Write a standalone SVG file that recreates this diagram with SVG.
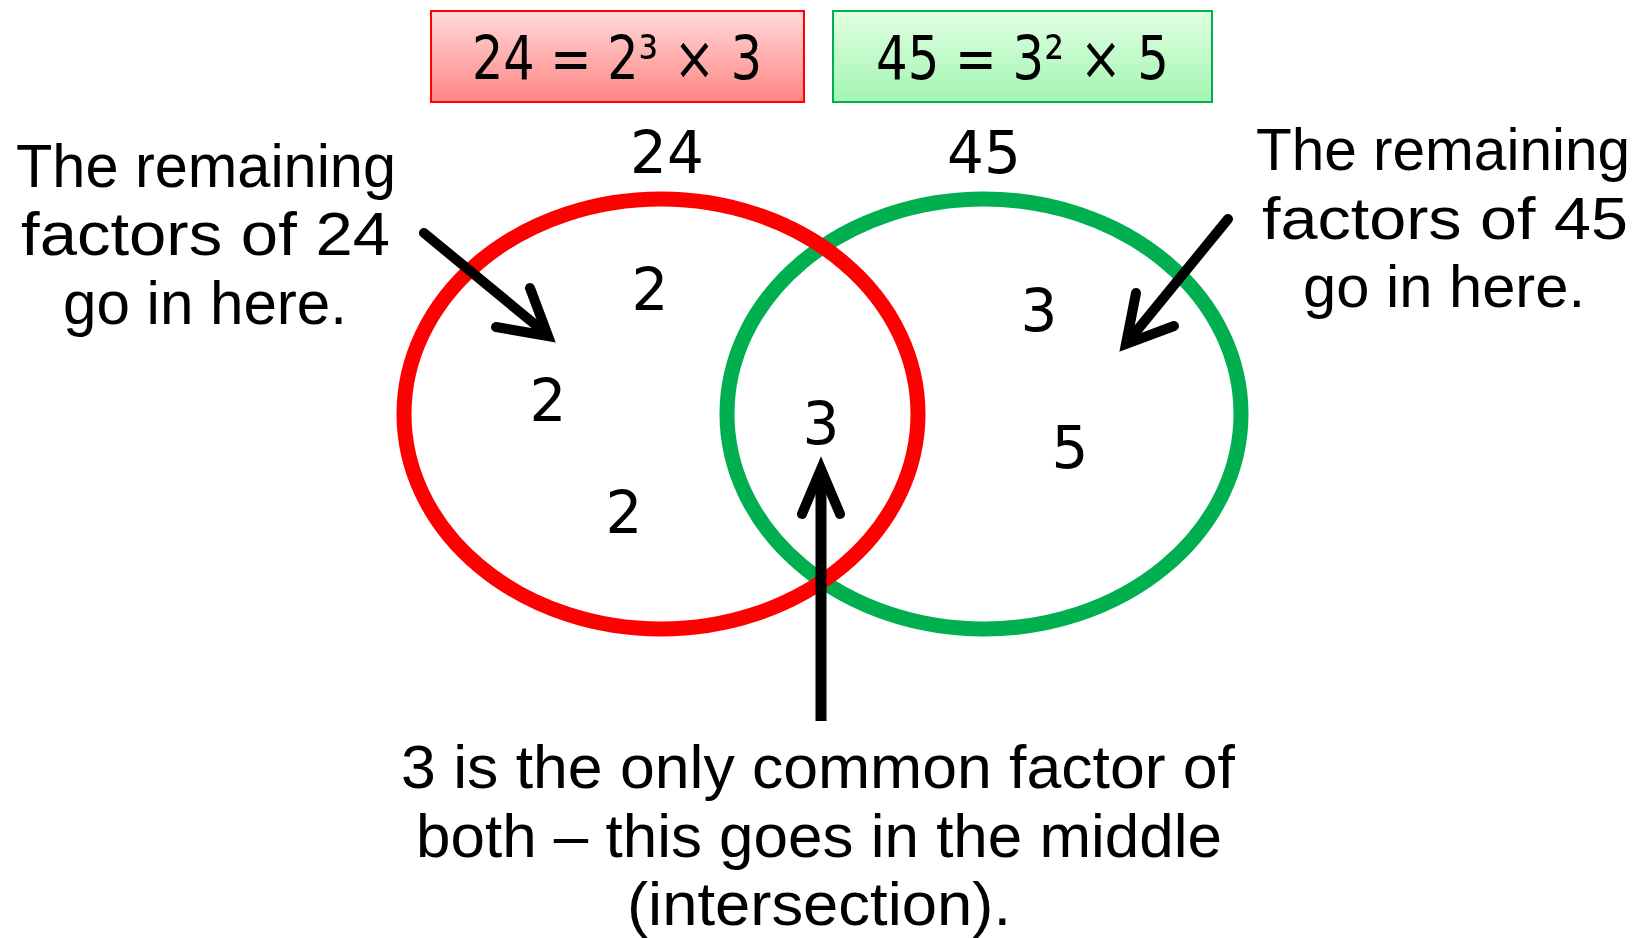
<svg xmlns="http://www.w3.org/2000/svg" width="1648" height="938" viewBox="0 0 1648 938">
<defs>
<linearGradient id="gRed" x1="0" y1="0" x2="0" y2="1">
<stop offset="0" stop-color="#ffd9d9"/>
<stop offset="1" stop-color="#ff8585"/>
</linearGradient>
<linearGradient id="gGreen" x1="0" y1="0" x2="0" y2="1">
<stop offset="0" stop-color="#e2ffe2"/>
<stop offset="1" stop-color="#a2f5b2"/>
</linearGradient>
<style>
text{font-family:"DejaVu Sans","Noto Sans",sans-serif;fill:#000}
.lbl{font-family:"Liberation Sans",Arial,sans-serif;font-size:62px}
.rt{font-family:"Liberation Sans",Arial,sans-serif;font-size:60px;text-anchor:end}
.num{font-size:58px;text-anchor:middle}
.box{font-size:60px}
.arrow{fill:none;stroke:#000;stroke-width:10;stroke-linecap:round;stroke-linejoin:miter}
.shaft{fill:none;stroke:#000;stroke-width:11;stroke-linecap:butt}
</style>
</defs>
<rect width="1648" height="938" fill="#fff"/>
<g id="box24">
<rect x="431" y="11" width="373" height="91" fill="url(#gRed)" stroke="#ff0000" stroke-width="2"/>
<text class="box" x="472" y="79" textLength="290" lengthAdjust="spacingAndGlyphs">24 = 2³ × 3</text>
</g>
<g id="box45">
<rect x="833" y="11" width="379" height="91" fill="url(#gGreen)" stroke="#00b050" stroke-width="2"/>
<text class="box" x="876" y="79" textLength="293" lengthAdjust="spacingAndGlyphs">45 = 3² × 5</text>
</g>
<g id="set45">
<ellipse cx="984" cy="414" rx="257" ry="215" fill="none" stroke="#00b050" stroke-width="15"/>
<text class="num" x="984" y="173">45</text>
<text class="num" x="1039" y="331">3</text>
<text class="num" x="1070" y="468">5</text>
</g>
<g id="set24">
<ellipse cx="661" cy="414" rx="257" ry="215" fill="none" stroke="#ff0000" stroke-width="15"/>
<text class="num" x="667" y="173">24</text>
<text class="num" x="650" y="310">2</text>
<text class="num" x="548" y="421">2</text>
<text class="num" x="624" y="533">2</text>
</g>
<g id="intersection">
<text class="num" x="821" y="444">3</text>
</g>
<g id="note-left">
<text class="lbl" x="16" y="187" textLength="380" lengthAdjust="spacingAndGlyphs">The remaining</text>
<text class="lbl" x="21" y="255" textLength="369" lengthAdjust="spacingAndGlyphs">factors of 24</text>
<text class="lbl" x="63" y="324" textLength="284" lengthAdjust="spacingAndGlyphs">go in here.</text>
</g>
<g id="note-right">
<text class="rt" x="1630" y="170" textLength="374" lengthAdjust="spacingAndGlyphs">The remaining</text>
<text class="rt" x="1628" y="239" textLength="366" lengthAdjust="spacingAndGlyphs">factors of 45</text>
<text class="rt" x="1585" y="307" textLength="282" lengthAdjust="spacingAndGlyphs">go in here.</text>
</g>
<g id="note-bottom">
<text class="lbl" x="401" y="788" textLength="834" lengthAdjust="spacingAndGlyphs">3 is the only common factor of</text>
<text class="lbl" x="416" y="857" textLength="806" lengthAdjust="spacingAndGlyphs">both – this goes in the middle</text>
<text class="lbl" x="627" y="925" textLength="384" lengthAdjust="spacingAndGlyphs">(intersection).</text>
</g>
<g id="connectors">
<line class="arrow" x1="424" y1="233" x2="543" y2="331"/>
<path class="arrow" d="M496 327 L548 336 L530 288"/>
<line class="arrow" x1="1228" y1="219" x2="1130" y2="339"/>
<path class="arrow" d="M1174 326 L1126 344 L1136 293"/>
<line class="shaft" x1="821" y1="721" x2="821" y2="480"/>
<path class="arrow" d="M802 514 L821 469 L840 514"/>
</g>
</svg>
